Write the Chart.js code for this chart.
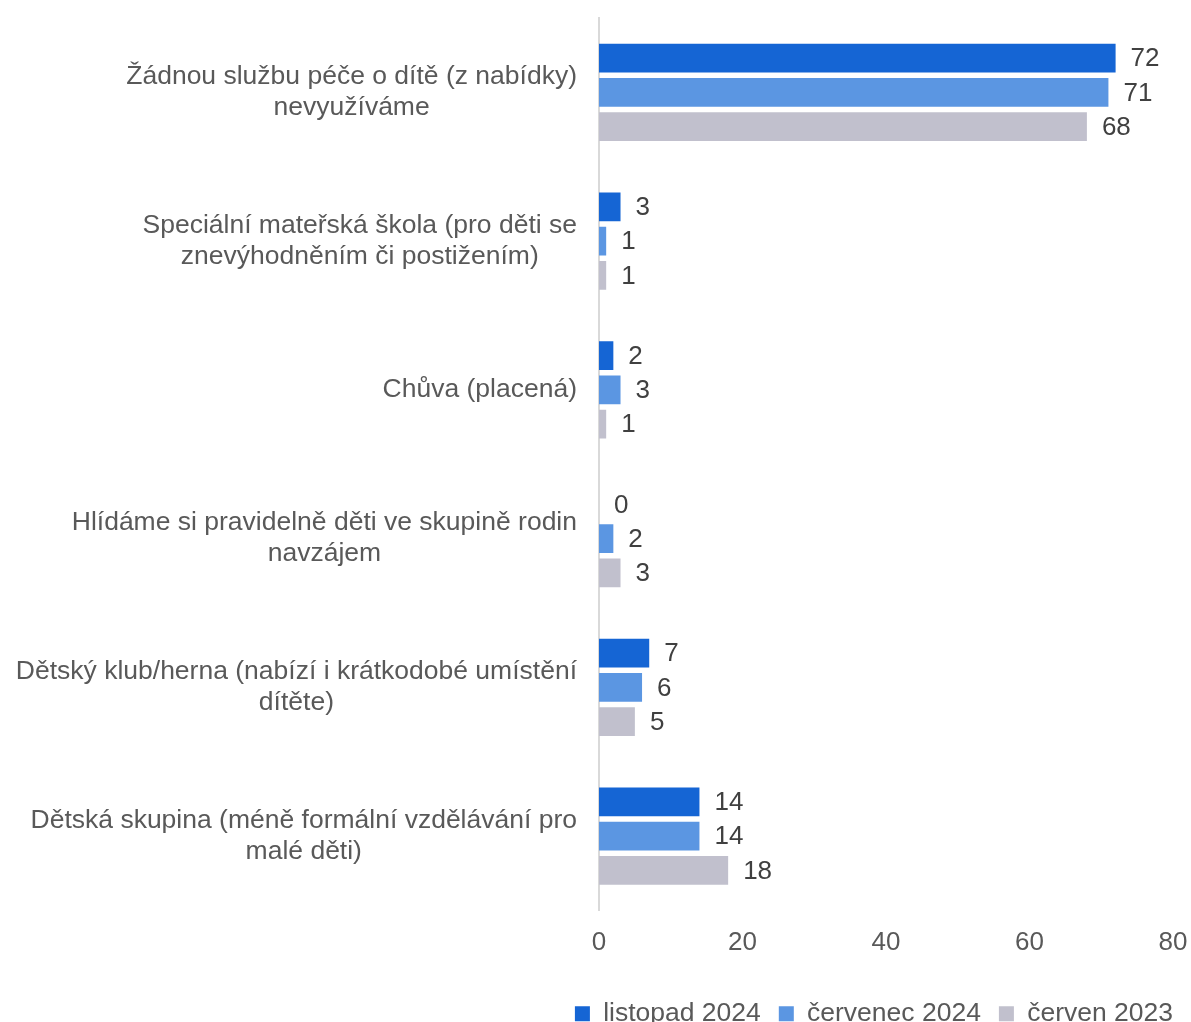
<!DOCTYPE html>
<html>
<head>
<meta charset="utf-8">
<script src="https://cdn.jsdelivr.net/npm/chart.js@4.4.1/dist/chart.umd.min.js"></script>
<style>
  html, body { margin: 0; padding: 0; background: #fff; overflow: hidden; }
</style>
</head>
<body>
<canvas id="chart" width="1191" height="1037"></canvas>
<script>
// categories (each one split into the lines it is drawn on)
const categories = [
  ['Žádnou službu péče o dítě (z nabídky)', 'nevyužíváme'],
  ['Speciální mateřská škola (pro děti se', 'znevýhodněním či postižením)'],
  ['Chůva (placená)'],
  ['Hlídáme si pravidelně děti ve skupině rodin', 'navzájem'],
  ['Dětský klub/herna (nabízí i krátkodobé umístění', 'dítěte)'],
  ['Dětská skupina (méně formální vzdělávání pro', 'malé děti)']
];

const seriesNames = ['listopad 2024', 'červenec 2024', 'červen 2023'];
const listopad2024 = [72, 3, 2, 0, 7, 14];
const cervenec2024 = [71, 1, 3, 2, 6, 14];
const cerven2023 = [68, 1, 1, 3, 5, 18];
const xTicks = [0, 20, 40, 60, 80];

const colors = ['#1565D4', '#5B96E2', '#C1C0CD'];
const fontFamily = '"Liberation Sans", Arial, sans-serif';

// category names on the left, lines centred on each other, block right-aligned to the axis
const categoryLabels = {
  id: 'categoryLabels',
  afterDraw(chart) {
    const ctx = chart.ctx;
    const y = chart.scales.y;
    const right = chart.chartArea.left - 22;
    ctx.save();
    ctx.font = '26.5px ' + fontFamily;
    ctx.fillStyle = '#595959';
    ctx.textAlign = 'center';
    ctx.textBaseline = 'middle';
    categories.forEach((lines, i) => {
      const cy = y.getPixelForValue(i);
      const w = Math.max(...lines.map(l => ctx.measureText(l).width));
      const cx = right - w / 2;
      lines.forEach((l, j) => {
        ctx.fillText(l, cx, cy + (j - (lines.length - 1) / 2) * 31);
      });
    });
    ctx.restore();
  }
};

// value written next to the end of each bar
const valueLabels = {
  id: 'valueLabels',
  afterDatasetsDraw(chart) {
    const ctx = chart.ctx;
    ctx.save();
    ctx.font = '26px ' + fontFamily;
    ctx.fillStyle = '#404040';
    ctx.textAlign = 'left';
    ctx.textBaseline = 'middle';
    chart.data.datasets.forEach((ds, di) => {
      chart.getDatasetMeta(di).data.forEach((bar, i) => {
        ctx.fillText(String(ds.data[i]), bar.x + 15, bar.y + 1);
      });
    });
    ctx.restore();
  }
};

new Chart(document.getElementById('chart'), {
  type: 'bar',
  data: {
    labels: categories.map(c => c.join(' ')),
    datasets: [
      { label: seriesNames[0], data: listopad2024, backgroundColor: colors[0] },
      { label: seriesNames[1], data: cervenec2024, backgroundColor: colors[1] },
      { label: seriesNames[2], data: cerven2023, backgroundColor: colors[2] }
    ]
  },
  options: {
    indexAxis: 'y',
    responsive: false,
    animation: false,
    devicePixelRatio: 1,
    categoryPercentage: 0.69,
    barPercentage: 0.84,
    layout: { padding: { top: 18, right: 0, left: 0, bottom: 0 } },
    scales: {
      x: {
        min: 0,
        max: 80,
        afterBuildTicks(scale) { scale.ticks = xTicks.map(v => ({ value: v })); },
        afterFit(scale) { scale.height = 72; scale.paddingRight = 18; },
        grid: { display: false, drawTicks: false },
        border: { display: false },
        ticks: {
          padding: 17,
          color: '#595959',
          font: { family: fontFamily, size: 26 }
        }
      },
      y: {
        afterFit(scale) { scale.width = 599; },
        grid: { display: false, drawTicks: false },
        border: { display: true, color: '#d9d9d9', width: 2 },
        ticks: { display: false }
      }
    },
    plugins: {
      tooltip: { enabled: false },
      legend: {
        position: 'bottom',
        align: 'end',
        labels: {
          boxWidth: 15,
          boxHeight: 15,
          padding: 18,
          color: '#595959',
          font: { family: fontFamily, size: 26.5 }
        }
      }
    }
  },
  plugins: [categoryLabels, valueLabels]
});
</script>
</body>
</html>
